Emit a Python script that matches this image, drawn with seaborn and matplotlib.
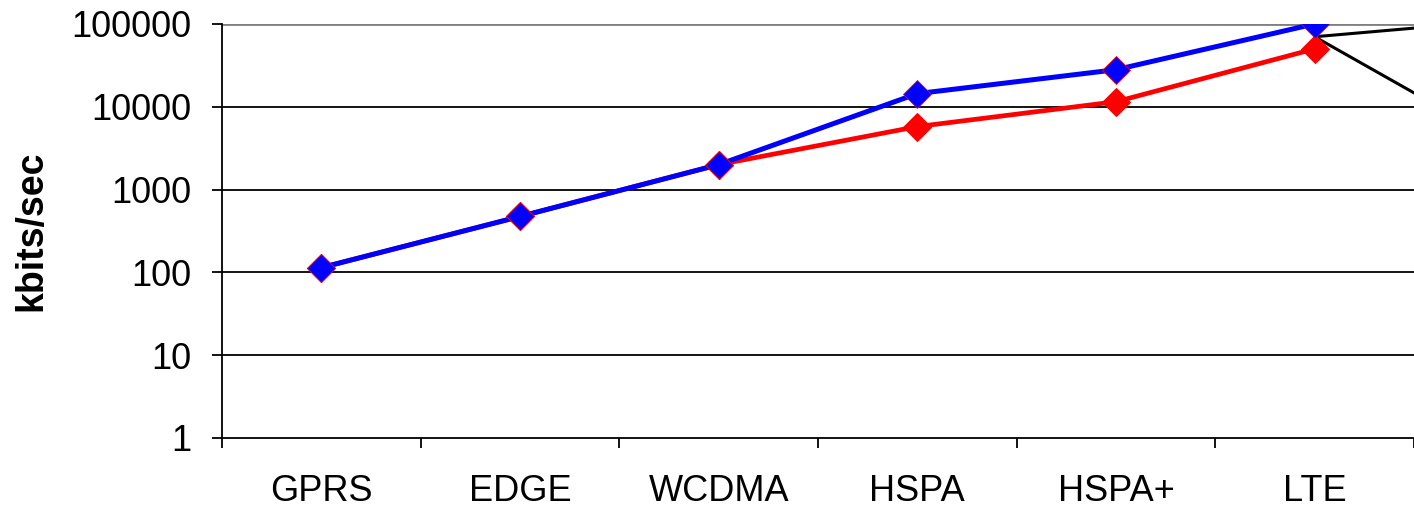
import pandas as pd
import numpy as np
import matplotlib
matplotlib.use("Agg")
import matplotlib.pyplot as plt
import seaborn as sns

# peak data rates per technology (kbits/sec)
techs = ["GPRS", "EDGE", "WCDMA", "HSPA", "HSPA+", "LTE"]
downlink = [114, 473, 2000, 14400, 28000, 100000]
uplink = [114, 473, 2000, 5760, 11500, 50000]

# callout lines leaving the LTE point towards labels off the right edge
callout_start = 70000
callout_ends = [89000, 14700]

df = pd.DataFrame({"tech": techs, "down": downlink, "up": uplink})

sns.set_style("white")
plt.rcParams["font.family"] = ["Liberation Sans", "DejaVu Sans"]
plt.rcParams["text.color"] = "black"
plt.rcParams["axes.labelcolor"] = "black"
plt.rcParams["xtick.color"] = "black"
plt.rcParams["ytick.color"] = "black"

fig = plt.figure(figsize=(14.14, 5.09), dpi=100)
ax = fig.add_axes([0.157, 0.1395, 0.843, 0.8135])

sns.lineplot(data=df, x="tech", y="up", sort=False, color="#ff0000", linewidth=3.4,
             marker="D", markersize=14, markeredgecolor="#ff0000", ax=ax, zorder=3)
sns.lineplot(data=df, x="tech", y="down", sort=False, color="#0000ff", linewidth=3.6,
             marker="D", markersize=14, markeredgecolor="#ff0000", markeredgewidth=0.6,
             ax=ax, zorder=4)

ax.set_yscale("log")
ax.set_ylim(1, 100000)
ax.set_xlim(-0.5, len(techs) - 0.5)

yt = [1, 10, 100, 1000, 10000, 100000]
ax.set_yticks(yt)
ax.set_yticklabels([str(v) for v in yt])
ax.yaxis.set_minor_locator(matplotlib.ticker.NullLocator())
for v in yt[1:]:
    if v < 100000:
        ax.axhline(v, color="black", linewidth=1.3, zorder=1)
    else:
        ax.axhline(v, color="#808080", linewidth=2, zorder=1)

ax.set_xticks(range(len(techs)))
ax.set_xticklabels(techs)
ax.set_xticks(np.arange(len(techs) + 1) - 0.5, minor=True)
ax.tick_params(axis="x", which="major", bottom=True, length=0, pad=26, labelsize=26)
ax.tick_params(axis="x", which="minor", bottom=True, length=7, width=1.3, direction="out")
ax.tick_params(axis="y", which="major", left=True, length=7, width=1.3,
               direction="out", labelsize=26, pad=15)

for s in ["top", "right"]:
    ax.spines[s].set_visible(False)
for s in ["left", "bottom"]:
    ax.spines[s].set_color("black")
    ax.spines[s].set_linewidth(1.3)

ax.set_xlabel("")
ax.set_ylabel("kbits/sec", fontsize=27, fontweight="bold", labelpad=16)

x_lte = len(techs) - 1
for end in callout_ends:
    ax.plot([x_lte, x_lte + 0.5], [callout_start, end], color="black", linewidth=2.2,
            clip_on=False, zorder=2)

fig.savefig("out.png", dpi=100)
